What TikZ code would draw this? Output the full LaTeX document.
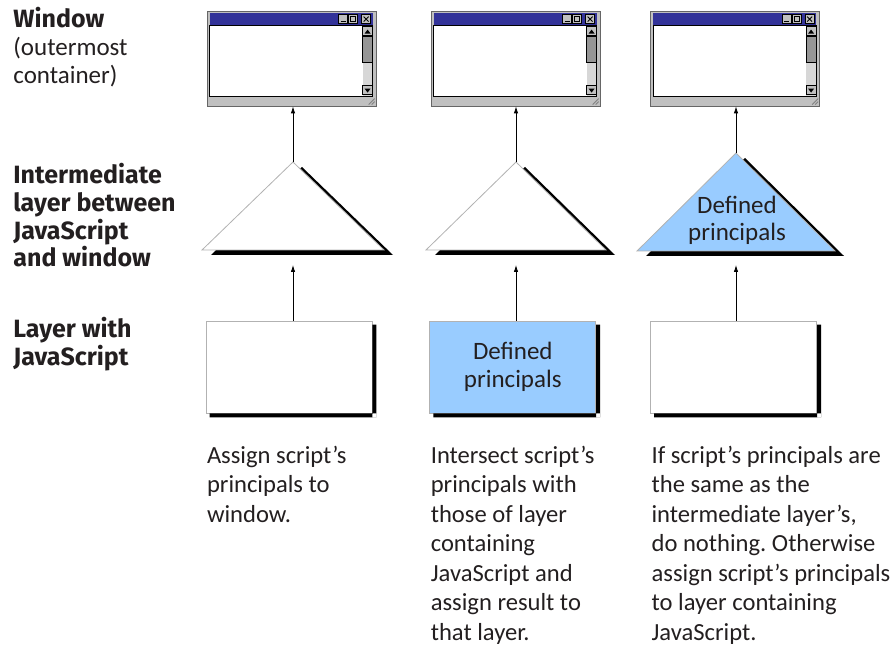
\documentclass[tikz,border=0pt]{standalone}
\usepackage{fontspec}
\setmainfont{Carlito}
\newfontfamily\headfont{Fira Sans}
\usetikzlibrary{positioning}
\usetikzlibrary{arrows.meta}
\frenchspacing

\definecolor{titleblue}{RGB}{51,51,153}
\definecolor{frame}{RGB}{192,192,192}
\definecolor{thumb}{RGB}{150,150,150}
\definecolor{track}{RGB}{215,215,215}
\definecolor{principal}{RGB}{153,204,255}
\definecolor{ink}{RGB}{35,31,32}

\tikzset{
  window/.style={draw=gray!80!black,fill=frame,minimum width=169pt,minimum height=95pt,inner sep=0pt},
  layer/.style={draw=gray!60,line width=0.8pt,fill=white,minimum width=166pt,minimum height=92pt,
    inner sep=0pt,align=center,text=ink,font=\fontsize{25}{28}\selectfont},
  tri/.style={draw=gray!60,line width=0.8pt,fill=white},
  shade/.style={fill=black},
  rowlabel/.style={anchor=north west,align=left,inner sep=0pt,text=ink,font=\fontsize{25}{27.7}\selectfont\headfont\bfseries},
  note/.style={align=left,inner sep=0pt,text=ink,font=\fontsize{24.6}{29.5}\selectfont}
}

% one application window, drawn from its top left corner
\newcommand\appwindow[2]{%
  \node[window](#1) at (#2) {};
  \begin{scope}[shift={(#1.north west)}]
    \fill[titleblue] (3,2) rectangle (166,15);
    \draw[fill=frame] (132,4) rectangle (141,13) (142,4) rectangle (151,13) (155,4) rectangle (164,13);
    \draw[line width=1.2pt] (134,11) -- (139,11);
    \draw[line width=0.8pt] (144,6) rectangle (149,11);
    \draw[line width=0.8pt] (157,6) -- (162,11) (157,11) -- (162,6);
    \fill[white] (3,15) rectangle (156,86);
    \fill[track] (156,15) rectangle (166,86);
    \draw[fill=frame] (156,16) rectangle (166,25);
    \fill (158,23) -- (164,23) -- (161,19) -- cycle;
    \draw[fill=thumb] (156,26) rectangle (166,52);
    \draw[fill=frame] (156,75) rectangle (166,84);
    \fill (158,78) -- (164,78) -- (161,82) -- cycle;
    \draw[line width=1.2pt] (3,15) rectangle (166,86);
    \draw[gray] (162,94) -- (168,88) (165,94) -- (168,91);
  \end{scope}}

\begin{document}
\begin{tikzpicture}[x=1pt,y=-1pt,line width=0.8pt,>={Latex[length=7pt,width=4.5pt]}]
  \useasboundingbox (0,0) rectangle (895,647);

  % windows
  \appwindow{win1}{291.5,58.5}
  \appwindow{win2}{515.5,58.5}
  \appwindow{win3}{735,58.5}

  % intermediate layers
  \coordinate (top1) at (293,162);
  \coordinate (top2) at (516,162);
  \coordinate (top3) at (736,153);
  \fill[shade] ([shift={(9,5)}]top1) -- ++(91,88) -- ++(-182,0) -- cycle;
  \draw[tri] (top1) -- ++(91,88) -- ++(-182,0) -- cycle;
  \fill[shade] ([shift={(9,5)}]top2) -- ++(90,88) -- ++(-180,0) -- cycle;
  \draw[tri] (top2) -- ++(90,88) -- ++(-180,0) -- cycle;
  \fill[shade] ([shift={(9,5)}]top3) -- ++(99,98) -- ++(-198,0) -- cycle;
  \draw[tri,fill=principal] (top3) -- ++(99,98) -- ++(-198,0) -- cycle;
  \node[align=center,text=ink,font=\fontsize{25}{27}\selectfont](tri3text) at (737,220) {Defined\\principals};

  % layers with JavaScript
  \node[layer](rect1) at (289,367) {};
  \node[layer,fill=principal,right=57pt of rect1](rect2) {Defined\\principals};
  \node[layer,right=54pt of rect2](rect3) {};
  \foreach \r in {rect1,rect2,rect3}
    \fill[shade] ([shift={(4,4)}]\r.north east) rectangle ([shift={(0,4)}]\r.south east)
                 ([shift={(4,0)}]\r.south west) rectangle ([shift={(4,4)}]\r.south east);

  % arrows
  \coordinate (in1) at (293,265);
  \coordinate (in2) at (516,265);
  \coordinate (in3) at (736,265);
  \draw[->] (rect1.north -| in1) -- (in1);
  \draw[->] (rect2.north -| in2) -- (in2);
  \draw[->] (rect3.north -| in3) -- (in3);
  \draw[->] (top1) -- (top1 |- win1.south);
  \draw[->] (top2) -- (top2 |- win2.south);
  \draw[->] (top3) -- (top3 |- win3.south);

  % row labels
  \node[rowlabel](lwin) at (13,7) {Window\\\normalfont(outermost\\\normalfont container)};
  \node[rowlabel](lmid) at (13,163) {Intermediate\\layer between\\JavaScript\\and window};
  \node[rowlabel](ljs) at (13,317) {Layer with\\JavaScript};

  % what happens
  \node[note,below right=32pt and 1pt of rect1.south west](note1) {Assign script's\\principals to\\window.};
  \node[note,below right=32pt and 1pt of rect2.south west](note2) {Intersect script's\\principals with\\those of layer\\containing\\JavaScript and\\assign result to\\that layer.};
  \node[note,below right=32pt and 1pt of rect3.south west](note3) {If script's principals are\\the same as the\\intermediate layer's,\\do nothing. Otherwise\\assign script's principals\\to layer containing\\JavaScript.};
\end{tikzpicture}
\end{document}
